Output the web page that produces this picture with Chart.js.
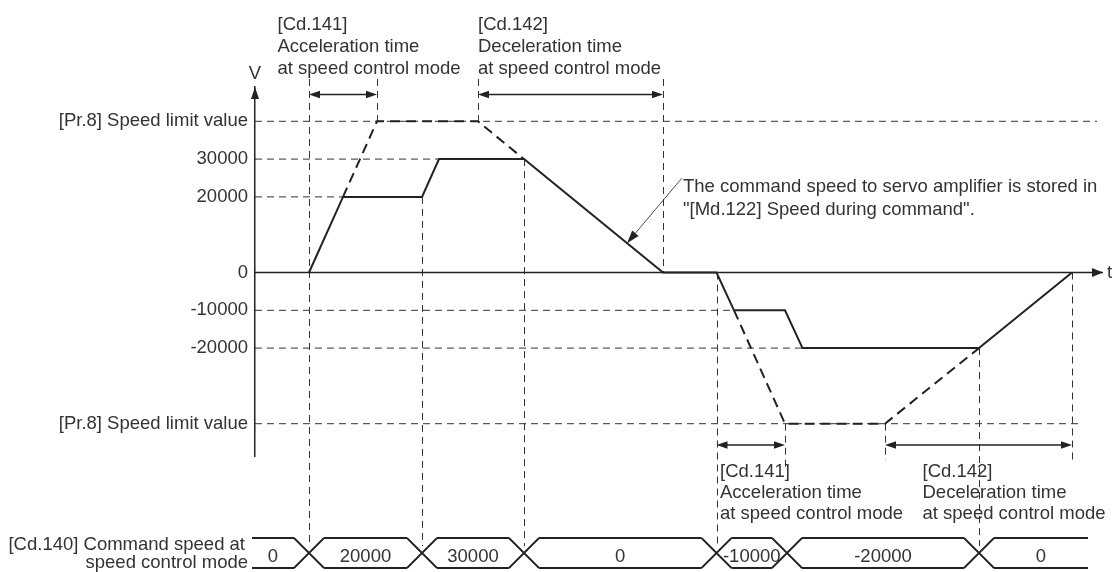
<!DOCTYPE html>
<html><head><meta charset="utf-8">
<script src="https://cdn.jsdelivr.net/npm/chart.js@4.4.1/dist/chart.umd.min.js"></script>
<style>html,body{margin:0;padding:0;background:#fff;}#wrap{width:1112px;height:572px;}</style>
</head><body><div id="wrap"><canvas id="c" width="1112" height="572"></canvas></div>
<script>
// ---------------- data (time units along t, speed values along V) ----------------
const speedTimes     = [54, 88, 167, 184, 269, 408, 461.5, 479, 530, 547.5, 724, 817];
const speedValues    = [0, 20000, 20000, 30000, 30000, 0, 0, -10000, -10000, -20000, -20000, 0];
const limitTimesPos  = [88, 122, 223, 269];
const limitValuesPos = [20000, 40000, 40000, 30000];
const limitTimesNeg  = [479, 530, 630, 724];
const limitValuesNeg = [-10000, -40000, -40000, -20000];
const tickValues     = [40000, 30000, 20000, 0, -10000, -20000, -40000];
const tickLabels     = ['[Pr.8] Speed limit value', '30000', '20000', '0', '-10000', '-20000', '[Pr.8] Speed limit value'];
const guideLevels    = [40000, 30000, 20000, -10000, -20000, -40000];
const guideEnds      = [842, 184, 88, 479, 547.5, 823];
const vGuideTimes    = [54, 122, 167, 223, 269, 408, 461.5, 530, 630, 724, 817];
const vGuideFrom     = ['top', 'top', 20000, 'top', 30000, 'top', 0, -40000, -40000, -20000, 0];
const vGuideTo       = ['row', 40000, 'row', 40000, 'row', 0, 'row', 'lowA', 'lowB', 'row', 'lowB'];
const cmdTransitions = [54, 167, 269, 461.5, 532, 724];
const cmdLabels      = ['0', '20000', '30000', '0', '-10000', '-20000', '0'];
const accelSpans     = [[54, 122], [461.5, 530]];
const decelSpans     = [[223, 408], [630, 817]];
const pointerTime    = 372;
const timeMax        = 848;

// ---------------- layout / style ----------------
const FONT = '18.5px "Liberation Sans", Arial, Helvetica, sans-serif';
const INK = '#222', TXT = '#333';
const L = { vTop: 79, rowTop: 538, rowBot: 568, rowStart: 252, rowEnd: 1088, rowHalf: 15,
            lowA: 468, lowB: 460, dimTopY: 94.5, dimBotY: 445, axisTopY: 87,
            pointerTail: [681.7, 178.3] };
const textBlocks = [
  { x: 277.5, y: [30, 52, 74], lines: ['[Cd.141]', 'Acceleration time', 'at speed control mode'] },
  { x: 478, y: [30, 52, 74], lines: ['[Cd.142]', 'Deceleration time', 'at speed control mode'] },
  { x: 720, y: [477, 498, 519], lines: ['[Cd.141]', 'Acceleration time', 'at speed control mode'] },
  { x: 922.5, y: [477, 498, 519], lines: ['[Cd.142]', 'Deceleration time', 'at speed control mode'] },
  { x: 683, y: [192, 214.5], lines: ['The command speed to servo amplifier is stored in', '"[Md.122] Speed during command".'] }
];

function pts(ts, vs) { return ts.map((t, i) => ({ x: t, y: vs[i] })); }
function interp(t) {
  for (let i = 0; i < speedTimes.length - 1; i++) {
    if (t >= speedTimes[i] && t <= speedTimes[i + 1]) {
      const f = (t - speedTimes[i]) / (speedTimes[i + 1] - speedTimes[i]);
      return speedValues[i] + f * (speedValues[i + 1] - speedValues[i]);
    }
  }
  return 0;
}
function yPos(chart, key) {
  if (typeof key === 'number') return chart.scales.y.getPixelForValue(key);
  if (key === 'top') return L.vTop;
  if (key === 'row') return L.rowTop + 8;
  return L[key];
}
function head(ctx, x, y, dx, dy, len, half) {
  const px = -dy, py = dx;
  ctx.beginPath();
  ctx.moveTo(x, y);
  ctx.lineTo(x - dx * len + px * half, y - dy * len + py * half);
  ctx.lineTo(x - dx * len - px * half, y - dy * len - py * half);
  ctx.closePath(); ctx.fill();
}

const datasets = [];
datasets.push({ data: pts(speedTimes, speedValues), borderColor: INK, borderWidth: 2, order: 0 });
datasets.push({ data: pts(limitTimesPos, limitValuesPos), borderColor: INK, borderWidth: 2, borderDash: [10, 6], order: 1 });
datasets.push({ data: pts(limitTimesNeg, limitValuesNeg), borderColor: INK, borderWidth: 2, borderDash: [10, 6], order: 1 });
datasets.push({ data: [{ x: 0, y: 0 }, { x: timeMax, y: 0 }], borderColor: INK, borderWidth: 1.5, order: 2 });
guideLevels.forEach((lv, i) => {
  datasets.push({ data: [{ x: 0, y: lv }, { x: guideEnds[i], y: lv }], borderColor: TXT, borderWidth: 1, borderDash: [7, 5], order: 5 });
});
datasets.forEach(d => { d.pointRadius = 0; d.fill = false; d.tension = 0; });

const diagram = {
  id: 'diagram',
  beforeDatasetsDraw(chart) {
    const ctx = chart.ctx, xs = chart.scales.x;
    ctx.save();
    ctx.strokeStyle = TXT; ctx.lineWidth = 1; ctx.setLineDash([7, 5]);
    vGuideTimes.forEach((t, i) => {
      const x = Math.round(xs.getPixelForValue(t)) + 0.5;
      ctx.beginPath();
      ctx.moveTo(x, yPos(chart, vGuideFrom[i]));
      ctx.lineTo(x, yPos(chart, vGuideTo[i]));
      ctx.stroke();
    });
    ctx.restore();
  },
  afterDraw(chart) {
    const ctx = chart.ctx, xs = chart.scales.x, ys = chart.scales.y, ca = chart.chartArea;
    ctx.save();
    ctx.fillStyle = INK; ctx.strokeStyle = INK; ctx.setLineDash([]);
    // axis arrows
    head(ctx, ca.left, L.axisTopY, 0, -1, 12, 4);
    head(ctx, ca.right, ys.getPixelForValue(0), 1, 0, 11, 4.5);
    // dimension arrows
    ctx.lineWidth = 1.3;
    const dims = [[accelSpans[0], L.dimTopY], [decelSpans[0], L.dimTopY], [accelSpans[1], L.dimBotY], [decelSpans[1], L.dimBotY]];
    dims.forEach(([sp, y]) => {
      const a = xs.getPixelForValue(sp[0]), b = xs.getPixelForValue(sp[1]);
      ctx.beginPath(); ctx.moveTo(a + 5, y); ctx.lineTo(b - 5, y); ctx.stroke();
      head(ctx, a, y, -1, 0, 11, 3.8);
      head(ctx, b, y, 1, 0, 11, 3.8);
    });
    // pointer
    const tipX = xs.getPixelForValue(pointerTime), tipY = ys.getPixelForValue(interp(pointerTime));
    const [tx0, ty0] = L.pointerTail;
    const dx = tipX - tx0, dy = tipY - ty0, len = Math.hypot(dx, dy);
    ctx.lineWidth = 0.8;
    ctx.beginPath(); ctx.moveTo(tx0, ty0); ctx.lineTo(tipX - dx / len * 8, tipY - dy / len * 8); ctx.stroke();
    head(ctx, tipX, tipY, dx / len, dy / len, 13, 4.2);
    // texts
    ctx.font = FONT; ctx.fillStyle = TXT; ctx.textBaseline = 'alphabetic';
    ctx.textAlign = 'left';
    textBlocks.forEach(b => b.lines.forEach((s, i) => ctx.fillText(s, b.x, b.y[i])));
    ctx.textAlign = 'center';
    ctx.fillText('V', ca.left, 78.5);
    ctx.textAlign = 'left';
    ctx.fillText('t', ca.right + 4, ys.getPixelForValue(0) + 6);
    // command speed row
    ctx.textAlign = 'right';
    ctx.fillText('[Cd.140] Command speed at', 245, 550);
    ctx.fillText('speed control mode', 248, 568);
    const h = L.rowHalf, tX = cmdTransitions.map(t => xs.getPixelForValue(t));
    ctx.strokeStyle = INK; ctx.lineWidth = 1.8;
    ctx.textAlign = 'center';
    cmdLabels.forEach((lab, i) => {
      const a = i === 0 ? L.rowStart : tX[i - 1] + h;
      const b = i === cmdLabels.length - 1 ? L.rowEnd : tX[i] - h;
      ctx.beginPath();
      ctx.moveTo(a, L.rowTop); ctx.lineTo(b, L.rowTop);
      ctx.moveTo(a, L.rowBot); ctx.lineTo(b, L.rowBot);
      ctx.stroke();
      ctx.fillText(lab, (a + b) / 2, 562);
    });
    tX.forEach(x => {
      ctx.beginPath();
      ctx.moveTo(x - h, L.rowTop); ctx.lineTo(x + h, L.rowBot);
      ctx.moveTo(x - h, L.rowBot); ctx.lineTo(x + h, L.rowTop);
      ctx.stroke();
    });
    ctx.restore();
  }
};

new Chart(document.getElementById('c'), {
  type: 'line',
  data: { datasets },
  options: {
    responsive: false, animation: false, devicePixelRatio: 1,
    layout: { padding: { left: 0, top: 87, right: 9, bottom: 116 } },
    plugins: { legend: { display: false }, tooltip: { enabled: false } },
    elements: { line: { borderCapStyle: 'butt' } },
    scales: {
      x: { type: 'linear', min: 0, max: timeMax, display: false },
      y: {
        type: 'linear', min: -48545, max: 49074, position: 'left',
        grid: { display: false, drawTicks: false },
        border: { display: true, color: INK, width: 1.5 },
        ticks: {
          autoSkip: false, padding: 7, color: TXT,
          font: { family: '"Liberation Sans", Arial, sans-serif', size: 18.5 },
          callback: (v) => { const i = tickValues.indexOf(v); return i >= 0 ? tickLabels[i] : ''; }
        },
        afterBuildTicks: (s) => { s.ticks = tickValues.map(v => ({ value: v })); },
        afterFit: (s) => { s.width = 255; }
      }
    }
  },
  plugins: [diagram]
});
</script>
</body></html>
